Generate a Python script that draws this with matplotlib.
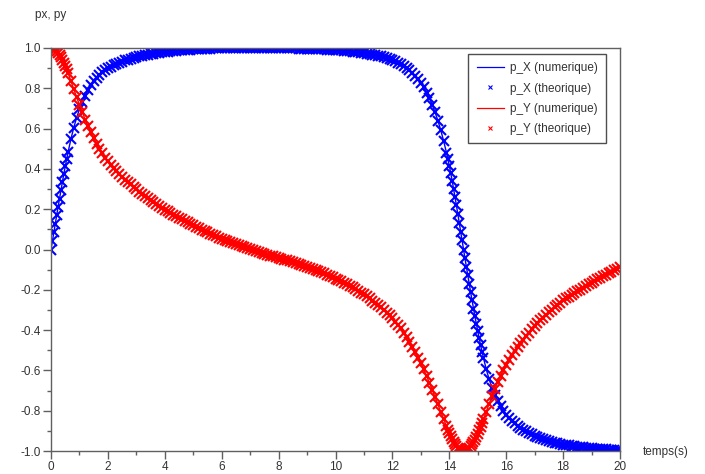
import numpy as np
import matplotlib
matplotlib.use("Agg")
import matplotlib.pyplot as plt
from matplotlib.ticker import MultipleLocator, FormatStrFormatter

plt.rcParams['font.family'] = ['Liberation Sans', 'DejaVu Sans']
plt.rcParams['axes.unicode_minus'] = False

# time samples (s): finer sampling in the fast-changing parts
t = np.round(np.concatenate([
    np.linspace(0.0, 0.55, 12),
    np.linspace(0.6, 13.9, 134),
    np.linspace(13.95, 15.2, 26),
    np.linspace(15.3, 20.0, 48),
]), 2)

p_x = [
    # 0.00 .. 0.55
    0.000, 0.043, 0.086, 0.129, 0.171, 0.212, 0.253, 0.294, 0.335, 0.375, 0.412, 0.448,
    # 0.6 .. 13.9
    0.483, 0.548, 0.605, 0.654, 0.696, 0.733, 0.764, 0.791, 0.814, 0.835,
    0.852, 0.866, 0.879, 0.890, 0.899, 0.907, 0.914, 0.921, 0.927, 0.933,
    0.938, 0.942, 0.946, 0.950, 0.955, 0.958, 0.961, 0.964, 0.967, 0.970,
    0.972, 0.974, 0.977, 0.979, 0.980, 0.982, 0.984, 0.985, 0.986, 0.988,
    0.989, 0.990, 0.991, 0.992, 0.993, 0.994, 0.994, 0.995, 0.996, 0.996,
    0.997, 0.998, 0.998, 0.998, 0.999, 0.999, 0.999, 0.999, 1.000, 1.000,
    1.000, 1.000, 1.000, 1.000, 1.000, 1.000, 1.000, 1.000, 1.000, 1.000,
    1.000, 1.000, 0.999, 0.999, 0.999, 0.999, 0.999, 0.999, 0.998, 0.998,
    0.998, 0.997, 0.997, 0.997, 0.996, 0.996, 0.995, 0.995, 0.994, 0.994,
    0.993, 0.992, 0.991, 0.991, 0.990, 0.989, 0.988, 0.986, 0.985, 0.984,
    0.982, 0.980, 0.979, 0.977, 0.975, 0.972, 0.970, 0.967, 0.964, 0.961,
    0.958, 0.954, 0.950, 0.945, 0.940, 0.934, 0.927, 0.920, 0.911, 0.901,
    0.889, 0.876, 0.861, 0.845, 0.826, 0.804, 0.779, 0.750, 0.719, 0.681,
    0.639, 0.592, 0.539, 0.481,
    # 13.95 .. 15.2
    0.449, 0.416, 0.380, 0.342, 0.302, 0.261, 0.219, 0.176, 0.132, 0.089,
    0.045, 0.000, -0.043, -0.086, -0.129, -0.171, -0.212, -0.253, -0.293, -0.332,
    -0.369, -0.406, -0.441, -0.475, -0.507, -0.538,
    # 15.3 .. 20.0
    -0.595, -0.644, -0.687, -0.723, -0.753, -0.779, -0.801, -0.820, -0.836, -0.851,
    -0.863, -0.875, -0.885, -0.894, -0.903, -0.911, -0.918, -0.925, -0.931, -0.936,
    -0.941, -0.946, -0.950, -0.954, -0.958, -0.961, -0.965, -0.968, -0.970, -0.972,
    -0.975, -0.977, -0.978, -0.980, -0.982, -0.984, -0.985, -0.986, -0.988, -0.989,
    -0.990, -0.991, -0.992, -0.993, -0.994, -0.995, -0.995, -0.996,
]

p_y = [
    # 0.00 .. 0.55
    1.000, 0.999, 0.996, 0.992, 0.985, 0.977, 0.967, 0.956, 0.942, 0.927, 0.911, 0.894,
    # 0.6 .. 13.9
    0.876, 0.836, 0.796, 0.756, 0.718, 0.681, 0.645, 0.612, 0.581, 0.551,
    0.524, 0.500, 0.477, 0.456, 0.438, 0.421, 0.405, 0.389, 0.375, 0.361,
    0.347, 0.335, 0.323, 0.312, 0.298, 0.287, 0.275, 0.265, 0.254, 0.244,
    0.235, 0.225, 0.215, 0.206, 0.198, 0.189, 0.181, 0.173, 0.165, 0.157,
    0.149, 0.142, 0.134, 0.128, 0.120, 0.113, 0.106, 0.099, 0.092, 0.085,
    0.078, 0.071, 0.065, 0.058, 0.052, 0.046, 0.041, 0.036, 0.031, 0.026,
    0.021, 0.016, 0.011, 0.006, 0.001, -0.004, -0.009, -0.014, -0.018, -0.022,
    -0.026, -0.030, -0.034, -0.038, -0.042, -0.046, -0.050, -0.054, -0.059, -0.063,
    -0.067, -0.072, -0.076, -0.081, -0.086, -0.091, -0.096, -0.101, -0.107, -0.113,
    -0.119, -0.125, -0.131, -0.137, -0.144, -0.151, -0.158, -0.165, -0.172, -0.180,
    -0.188, -0.197, -0.206, -0.215, -0.223, -0.233, -0.243, -0.254, -0.264, -0.276,
    -0.287, -0.300, -0.313, -0.327, -0.342, -0.358, -0.375, -0.392, -0.413, -0.434,
    -0.458, -0.482, -0.508, -0.536, -0.564, -0.595, -0.627, -0.661, -0.696, -0.732,
    -0.769, -0.806, -0.842, -0.877,
    # 13.95 .. 15.2
    -0.894, -0.910, -0.925, -0.940, -0.953, -0.966, -0.976, -0.985, -0.991, -0.996,
    -0.999, -1.000, -0.999, -0.996, -0.992, -0.985, -0.977, -0.967, -0.956, -0.943,
    -0.929, -0.914, -0.897, -0.880, -0.862, -0.843,
    # 15.3 .. 20.0
    -0.804, -0.765, -0.727, -0.691, -0.658, -0.627, -0.599, -0.573, -0.549, -0.526,
    -0.505, -0.485, -0.465, -0.448, -0.430, -0.413, -0.397, -0.381, -0.366, -0.352,
    -0.338, -0.325, -0.311, -0.299, -0.287, -0.275, -0.264, -0.253, -0.243, -0.234,
    -0.225, -0.216, -0.207, -0.199, -0.190, -0.181, -0.172, -0.164, -0.156, -0.148,
    -0.140, -0.132, -0.125, -0.117, -0.110, -0.103, -0.096, -0.089,
]

labels = ["p_X (numerique)", "p_X (theorique)", "p_Y (numerique)", "p_Y (theorique)"]
x_ticks = [0, 2, 4, 6, 8, 10, 12, 14, 16, 18, 20]
y_ticks = [-1.0, -0.8, -0.6, -0.4, -0.2, 0.0, 0.2, 0.4, 0.6, 0.8, 1.0]

fig = plt.figure(figsize=(7.05, 4.74), dpi=100)
ax = fig.add_axes([51/705, 23/474, 569/705, 403/474])

blue = (0, 0, 1)
red = (1, 0, 0)
ax.plot(t, p_x, color=blue, lw=1.0, label=labels[0])
ax.plot(t, p_x, ls='none', marker='x', ms=6.5, mew=1.5, color=blue, label=labels[1])
ax.plot(t, p_y, color=red, lw=1.0, label=labels[2])
ax.plot(t, p_y, ls='none', marker='x', ms=6.5, mew=1.5, color=red, label=labels[3])

ax.set_xlim(0, 20)
ax.set_ylim(-1, 1)
ax.set_xticks(x_ticks)
ax.set_yticks(y_ticks)
ax.yaxis.set_major_formatter(FormatStrFormatter('%.1f'))
ax.xaxis.set_minor_locator(MultipleLocator(1))
ax.yaxis.set_minor_locator(MultipleLocator(0.1))

spine_col = '#606060'
for s in ax.spines.values():
    s.set_color(spine_col)
    s.set_linewidth(1.0)
ax.tick_params(which='both', direction='out', colors=spine_col, labelcolor='#333333',
               top=False, right=False, labelsize=8.5)
ax.tick_params(which='major', length=6, width=1.0, pad=1.5)
ax.tick_params(which='minor', length=3, width=1.0)

leg = ax.legend(loc='upper right', bbox_to_anchor=(0.975, 0.985), borderaxespad=0,
                fontsize=8.5, frameon=True, fancybox=False, edgecolor='#222222',
                handlelength=2.3, handletextpad=0.5, labelspacing=0.7,
                borderpad=0.7, markerscale=0.5)
leg.get_frame().set_linewidth(1.0)
for h in leg.legend_handles:
    if hasattr(h, 'set_markeredgewidth'):
        h.set_markeredgewidth(0.8)
        h.set_linewidth(0.9)
for txt in leg.get_texts():
    txt.set_color('#333333')

fig.text(35/705, 1 - 15/474, "px, py", fontsize=8.5, color='#333333', ha='left', va='center')
fig.text(643/705, 1 - 452/474, "temps(s)", fontsize=8.5, color='#333333', ha='left', va='center')

fig.savefig("out.png", dpi=100, facecolor='white')
